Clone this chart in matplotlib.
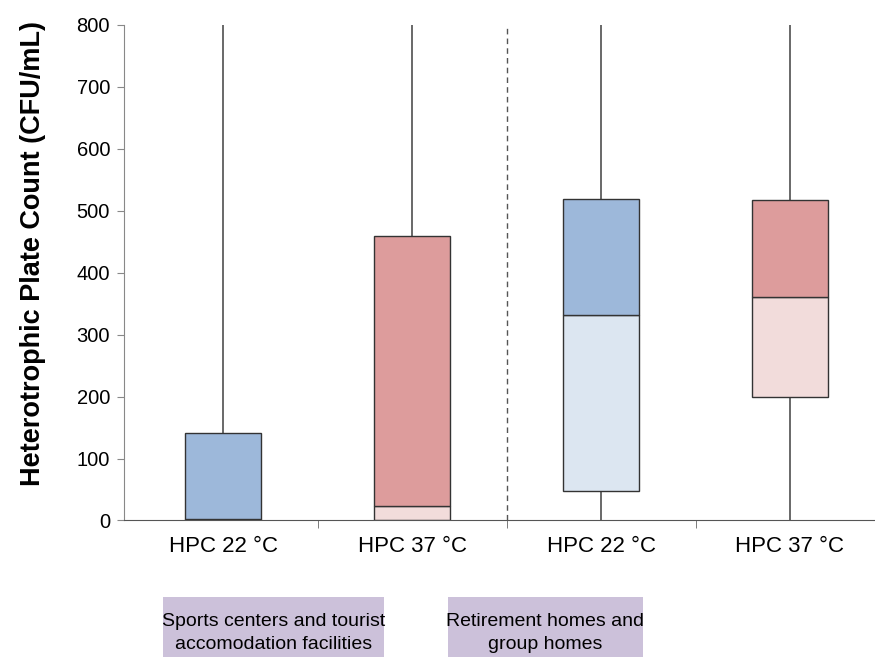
import matplotlib
matplotlib.use('Agg')
import matplotlib.pyplot as plt
from matplotlib.patches import Rectangle

plt.rcParams['font.family'] = ['Liberation Sans', 'DejaVu Sans']

# box plot summary per group (CFU/mL)
labels = ['HPC 22 °C', 'HPC 37 °C', 'HPC 22 °C', 'HPC 37 °C']
mins = [0, 0, 0, 0]
q1 = [0, 0, 48, 200]
medians = [2, 23, 332, 360]
q3 = [141, 460, 519, 518]
maxs = [800, 800, 800, 800]
group_names = ['Sports centers and tourist\naccomodation facilities',
               'Retirement homes and\ngroup homes']

dark = ['#9db8da', '#dd9c9c', '#9db8da', '#dd9c9c']
light = ['#dce6f1', '#f2dcdb', '#dce6f1', '#f2dcdb']
edge = '#333333'

fig = plt.figure(figsize=(8.75, 6.57), dpi=100)
ax = fig.add_axes([0.1417, 0.2078, 0.8583, 0.7542])

w = 0.4
for i in range(len(labels)):
    # whiskers
    ax.plot([i, i], [q3[i], maxs[i]], color='#404040', lw=1.1, zorder=1)
    ax.plot([i, i], [mins[i], q1[i]], color='#404040', lw=1.1, zorder=1)
    # lower half and upper half of the box
    ax.bar(i, medians[i] - q1[i], bottom=q1[i], width=w, color=light[i],
           edgecolor=edge, linewidth=1.0, zorder=2)
    ax.bar(i, q3[i] - medians[i], bottom=medians[i], width=w, color=dark[i],
           edgecolor=edge, linewidth=1.0, zorder=2)

ax.axvline(1.5, color='#555555', linestyle='--', lw=1.0, dashes=(4, 3))

ax.set_xlim(-0.525, 3.45)
ax.set_ylim(0, 800)
ax.set_yticks(range(0, 801, 100))
ax.set_xticks(range(len(labels)))
ax.set_xticklabels(labels, fontsize=16)
ax.set_xticks([0.5, 1.5, 2.5], minor=True)
ax.tick_params(axis='x', which='major', length=0, pad=11)
ax.tick_params(axis='x', which='minor', length=6, color='#666666')
ax.tick_params(axis='y', labelsize=14.5, length=5, color='#888888', pad=5)

fig.text(33 / 875, 1 - 254 / 657, 'Heterotrophic Plate Count (CFU/mL)',
         rotation=90, ha='center', va='center', fontsize=19.5,
         fontweight='bold')

for s in ['top', 'right']:
    ax.spines[s].set_visible(False)
ax.spines['left'].set_color('#888888')
ax.spines['bottom'].set_color('#555555')

# group label boxes below the axis
W, H = 875, 657
boxes = [(163, 384), (448, 643)]
for (x0, x1), name in zip(boxes, group_names):
    fig.patches.append(Rectangle((x0 / W, 0), (x1 - x0) / W, (H - 597) / H,
                                 transform=fig.transFigure,
                                 facecolor='#ccc1da', edgecolor='none'))
    fig.text((x0 + x1) / 2 / W, 1 - 633 / H, name, ha='center', va='center',
             fontsize=14, linespacing=1.45)

fig.savefig('out.png', dpi=100)
